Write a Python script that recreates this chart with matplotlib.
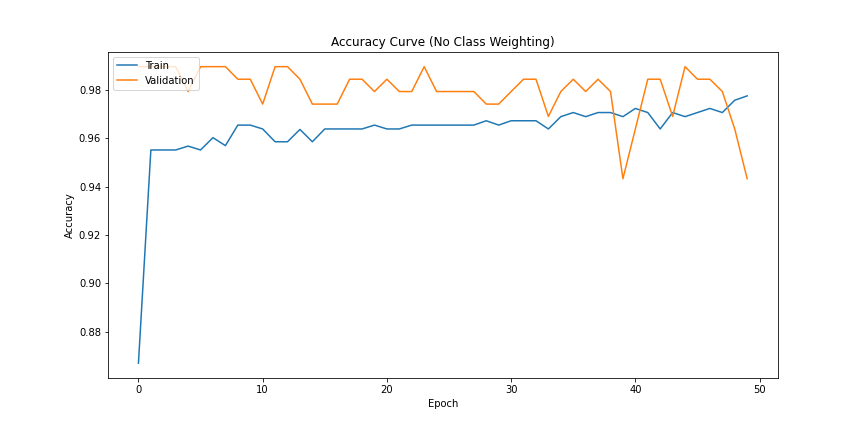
import numpy as np
import matplotlib
matplotlib.use("Agg")
import matplotlib.pyplot as plt

epochs = np.arange(50)

train_acc = [0.8669, 0.9552, 0.9552, 0.9552, 0.9568, 0.9552, 0.9603, 0.9570, 0.9655, 0.9655,
             0.9639, 0.9586, 0.9586, 0.9637, 0.9586, 0.9639, 0.9639, 0.9639, 0.9639, 0.9655,
             0.9639, 0.9639, 0.9655, 0.9655, 0.9655, 0.9655, 0.9655, 0.9655, 0.9673, 0.9655,
             0.9673, 0.9673, 0.9673, 0.9639, 0.9690, 0.9707, 0.9690, 0.9707, 0.9707, 0.9690,
             0.9724, 0.9707, 0.9639, 0.9707, 0.9690, 0.9707, 0.9724, 0.9707, 0.9758, 0.9776]

val_acc = [0.9897, 0.9897, 0.9897, 0.9897, 0.9794, 0.9897, 0.9897, 0.9897, 0.9845, 0.9845,
           0.9742, 0.9897, 0.9897, 0.9845, 0.9742, 0.9742, 0.9742, 0.9845, 0.9845, 0.9794,
           0.9845, 0.9794, 0.9794, 0.9897, 0.9794, 0.9794, 0.9794, 0.9794, 0.9742, 0.9742,
           0.9794, 0.9845, 0.9845, 0.9691, 0.9794, 0.9845, 0.9794, 0.9845, 0.9794, 0.9433,
           0.9639, 0.9845, 0.9845, 0.9691, 0.9897, 0.9845, 0.9845, 0.9794, 0.9639, 0.9433]

fig, ax = plt.subplots(figsize=(12, 6), dpi=72)
fig.subplots_adjust(left=0.125, right=0.9, top=0.88, bottom=0.125)

ax.plot(epochs, train_acc, label='Train')
ax.plot(epochs, val_acc, label='Validation')
ax.set_title('Accuracy Curve (No Class Weighting)')
ax.set_xlabel('Epoch')
ax.set_ylabel('Accuracy')
ax.legend(loc='upper left')

fig.savefig('out.png', dpi=72)
